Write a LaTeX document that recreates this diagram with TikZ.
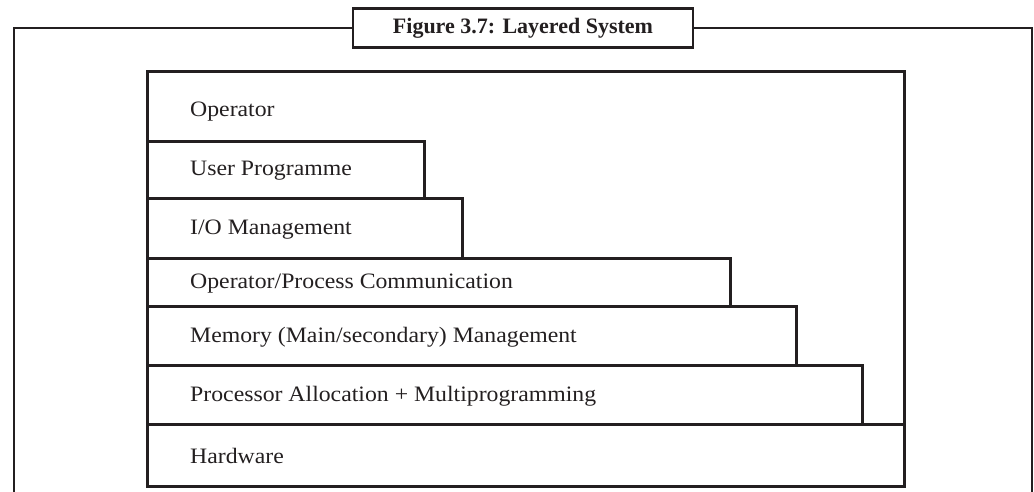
\documentclass[tikz,border=0pt]{standalone}
\usepackage{fontspec}
\setmainfont{Liberation Serif}
\newfontfamily\layerfont[FakeStretch=1.08]{Liberation Serif}
\definecolor{ink}{HTML}{231F20}
\begin{document}
\begin{tikzpicture}[x=1pt,y=-1pt,
  frame/.style={draw=ink,line width=2.6pt},
  layerbox/.style={frame,rectangle,anchor=north west,inner sep=0pt},
  layertext/.style={anchor=west,inner sep=0pt,text=ink,font=\layerfont\fontsize{22}{25}\selectfont},
  titlebox/.style={frame,rectangle,fill=white,minimum width=340pt,minimum height=39pt,inner sep=0pt,
    font=\fontsize{22}{24}\selectfont\bfseries,text=ink}]
\useasboundingbox (0,0) rectangle (1034,491);
\begin{scope}
\clip (0,0) rectangle (1034,491);
% outer frame, open at the bottom
\coordinate (fbl) at (14,500);
\coordinate (fbr) at (1032,500);
\node[titlebox] (title) at (523,28) {Figure 3.7: Layered System};
\draw[frame] (title.west) -- (14,28) -- (fbl);
\draw[frame] (title.east) -- (1032,28) -- (fbr);
% system box
\node[layerbox,minimum width=757pt,minimum height=415pt] (sys) at (146,70) {};
% stacked layers
\node[layerbox,minimum width=277pt,minimum height=57pt] (user) at (146,140) {};
\node[layerbox,minimum width=315pt,minimum height=60pt] (io)   at (146,197) {};
\node[layerbox,minimum width=583pt,minimum height=48pt] (opc)  at (146,257) {};
\node[layerbox,minimum width=649pt,minimum height=59pt] (mem)  at (146,305) {};
\node[layerbox,minimum width=715pt,minimum height=59pt] (proc) at (146,364) {};
\node[layerbox,minimum width=757pt,minimum height=62pt] (hw)   at (146,423) {};
\end{scope}
% labels
\node[layertext] (toperator) at (190,112) {Operator};
\node[layertext] at ([xshift=44pt,yshift=-1pt]user.west) {User Programme};
\node[layertext] at ([xshift=44pt,yshift=-1pt]io.west) {I/O Management};
\node[layertext] at ([xshift=44pt,yshift=-1pt]opc.west) {Operator/Process Communication};
\node[layertext] at ([xshift=44pt,yshift=-1pt]mem.west) {Memory (Main/secondary) Management};
\node[layertext] at ([xshift=44pt,yshift=-1pt]proc.west) {Processor Allocation + Multiprogramming};
\node[layertext] at ([xshift=44pt,yshift=-1pt]hw.west) {Hardware};
\end{tikzpicture}
\end{document}
